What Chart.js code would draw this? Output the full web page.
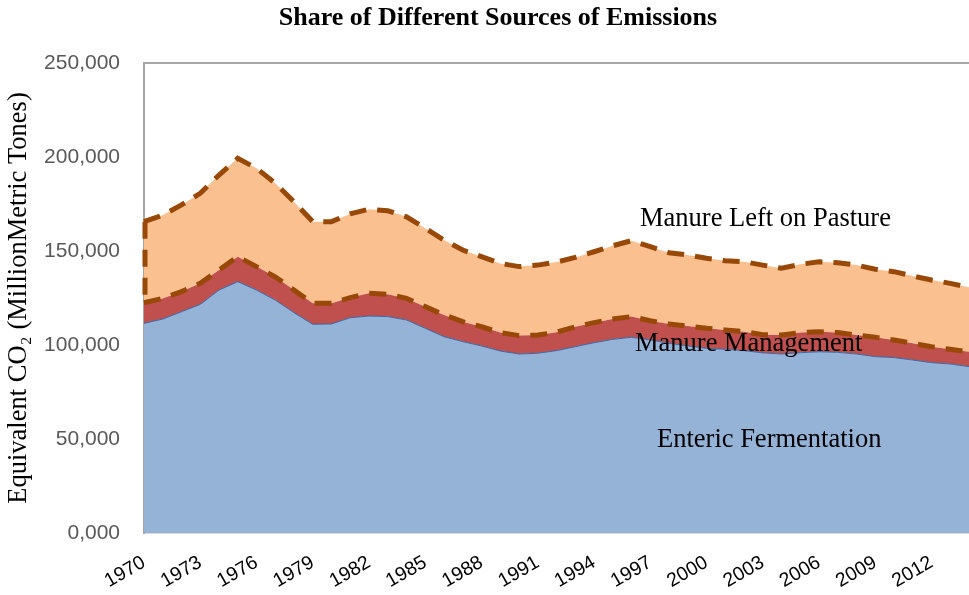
<!DOCTYPE html>
<html>
<head>
<meta charset="utf-8">
<script src="https://cdn.jsdelivr.net/npm/chart.js@4"></script>
<style>
  body { margin: 0; background: #fff; }
  canvas { display: block; }
</style>
</head>
<body>
<canvas id="chart" width="969" height="595"></canvas>
<script>
// years 1970 - 2014
const years = [];
for (let y = 1970; y <= 2014; y++) years.push(String(y));

// values (equivalent CO2)
const entericFermentation = [
  111500, 113800, 117700, 121600, 129200, 133700, 129200, 123900, 117200, 111000,
  111200, 114500, 115400, 115100, 113300, 108900, 104400, 101800, 99500, 96800,
  95200, 95600, 97000, 99100, 101200, 103000, 104100, 102700, 100900, 99500,
  98200, 97700, 97000, 95800, 95200, 95900, 96400, 96100, 95200, 93800,
  93300, 92000, 90600, 89900, 88500
];
const manureManagement = [
  11000, 11000, 10700, 11200, 10700, 13300, 12500, 12400, 12000, 11200,
  11000, 10700, 12100, 11900, 11500, 11500, 11600, 10600, 10200, 9800,
  9800, 9700, 9800, 10600, 10700, 10800, 11000, 10200, 10300, 10600,
  10700, 10300, 10100, 9700, 10100, 10700, 10700, 10500, 10100, 10300,
  9400, 8900, 8500, 7800, 7900
];
const manureLeftOnPasture = [
  43100, 44300, 46100, 47900, 50500, 52300, 52300, 49700, 47000, 43400,
  43400, 44600, 44700, 44400, 43400, 41700, 39800, 38100, 37300, 36800,
  36700, 37200, 37300, 36900, 37700, 39000, 40400, 39400, 37900, 37800,
  37200, 36800, 37200, 37000, 35500, 36300, 37200, 37200, 37200, 36200,
  36300, 35800, 35500, 35100, 34300
];
const yTickValues = [0, 50000, 100000, 150000, 200000, 250000];
const yTickLabels = ["0,000", "50,000", "100,000", "150,000", "200,000", "250,000"];

const brown = "#984807";
const dash = [17, 11];

// chart title, area labels, plot frame, left edge dashes
const extras = {
  id: "extras",
  afterDatasetsDraw(chart) {
    const { ctx, scales } = chart;
    const x0 = scales.x.getPixelForValue(0);
    const lower = scales.y.getPixelForValue(entericFermentation[0] + manureManagement[0]);
    const upper = scales.y.getPixelForValue(entericFermentation[0] + manureManagement[0] + manureLeftOnPasture[0]);
    ctx.save();
    ctx.strokeStyle = brown;
    ctx.lineWidth = 5;
    ctx.setLineDash(dash);
    ctx.beginPath();
    ctx.moveTo(x0 + 1, upper);
    ctx.lineTo(x0 + 1, lower);
    ctx.stroke();
    ctx.restore();
  },
  afterDraw(chart) {
    const { ctx, chartArea } = chart;
    ctx.save();
    ctx.strokeStyle = "#a6a6a6";
    ctx.lineWidth = 2;
    ctx.beginPath();
    ctx.moveTo(chartArea.left, chartArea.top);
    ctx.lineTo(chartArea.right, chartArea.top);
    ctx.stroke();

    ctx.fillStyle = "#000";
    ctx.textAlign = "center";
    ctx.textBaseline = "middle";
    ctx.font = "bold 26px 'Liberation Serif'";
    ctx.fillText("Share of Different Sources of Emissions", 498, 18);

    ctx.font = "26.5px 'Liberation Serif'";
    ctx.textAlign = "left";
    ctx.fillText("Manure Left on Pasture", 640, 219);
    ctx.fillText("Manure Management", 635, 344);
    ctx.fillText("Enteric Fermentation", 657, 440);
    ctx.restore();
  }
};

new Chart(document.getElementById("chart"), {
  type: "line",
  data: {
    labels: years,
    datasets: [
      {
        label: "Enteric Fermentation",
        data: entericFermentation,
        backgroundColor: "#95b3d7",
        borderColor: "#3a68a8",
        borderWidth: 1,
        fill: "origin",
        pointRadius: 0,
        tension: 0
      },
      {
        label: "Manure Management",
        data: manureManagement,
        backgroundColor: "#c0504d",
        borderColor: brown,
        borderWidth: 5,
        borderDash: dash,
        fill: "-1",
        pointRadius: 0,
        tension: 0
      },
      {
        label: "Manure Left on Pasture",
        data: manureLeftOnPasture,
        backgroundColor: "#fac090",
        borderColor: brown,
        borderWidth: 5,
        borderDash: dash,
        fill: "-1",
        pointRadius: 0,
        tension: 0
      }
    ]
  },
  options: {
    responsive: false,
    animation: false,
    layout: { padding: { top: 63, right: 0, bottom: 0, left: 0 } },
    plugins: {
      legend: { display: false },
      title: { display: false },
      tooltip: { enabled: false }
    },
    scales: {
      x: {
        offset: false,
        grid: { display: false, drawTicks: false },
        border: { display: true, color: "#d9d9d9", width: 2 },
        afterFit: s => { s.height = 62; s.paddingRight = 0; s.paddingLeft = 0; },
        ticks: {
          autoSkip: false,
          minRotation: 30,
          maxRotation: 30,
          padding: 18,
          color: "#000",
          font: { family: "'Liberation Sans'", size: 19.5 },
          callback: function (val, i) {
            return i % 3 === 0 ? years[i] : "";
          }
        }
      },
      y: {
        stacked: true,
        min: 0,
        max: 250000,
        afterFit: s => { s.width = 144; },
        afterBuildTicks: s => { s.ticks = yTickValues.map(v => ({ value: v })); },
        grid: { display: false, drawTicks: false },
        border: { display: true, color: "#a6a6a6", width: 2 },
        title: {
          display: true,
          text: "Equivalent CO\u2082 (MillionMetric Tones)",
          color: "#000",
          font: { family: "'Liberation Serif'", size: 26.5 },
          padding: { top: 3, bottom: 0 }
        },
        ticks: {
          padding: 24,
          color: "#595959",
          font: { family: "'Liberation Sans'", size: 21 },
          callback: function (val) {
            return yTickLabels[yTickValues.indexOf(val)];
          }
        }
      }
    }
  },
  plugins: [extras]
});
</script>
</body>
</html>
